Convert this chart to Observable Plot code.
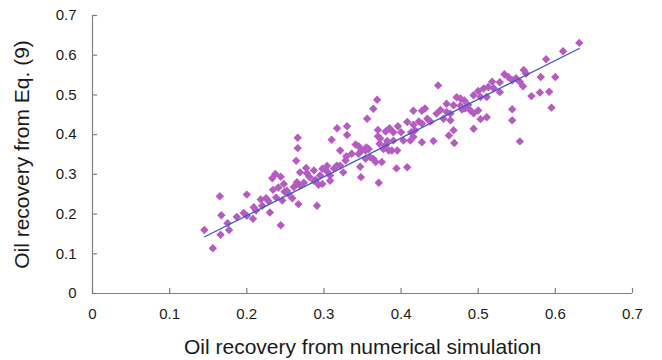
<!DOCTYPE html>
<html>
<head>
<meta charset="utf-8">
<script src="https://cdn.jsdelivr.net/npm/d3@7"></script>
<script src="https://cdn.jsdelivr.net/npm/@observablehq/plot@0.6"></script>
<style>
  html, body { margin: 0; padding: 0; background: #fff; }
  #chart { width: 662px; height: 360px; }
  svg { font-family: "Liberation Sans", Arial, sans-serif; }
</style>
</head>
<body>
<div id="chart"></div>
<script>
// Oil recovery: numerical simulation (x) vs. Eq. (9) (y)
const simRecovery = [
  0.145, 0.156, 0.165, 0.167, 0.166, 0.175, 0.177, 0.187, 0.196, 0.200,
  0.200, 0.208, 0.209, 0.218, 0.220, 0.225, 0.228, 0.230, 0.234, 0.237,
  0.244, 0.238, 0.244, 0.248, 0.249, 0.233, 0.246, 0.259, 0.261, 0.267,
  0.265, 0.252, 0.264, 0.266, 0.266, 0.269, 0.277, 0.278, 0.274, 0.287,
  0.289, 0.291, 0.293, 0.295, 0.298, 0.304, 0.308, 0.313, 0.317, 0.321,
  0.325, 0.308, 0.321, 0.310, 0.317, 0.330, 0.330, 0.329, 0.336, 0.287,
  0.269, 0.341, 0.345, 0.349, 0.354, 0.345, 0.347, 0.348, 0.354, 0.356,
  0.355, 0.358, 0.360, 0.364, 0.369, 0.364, 0.367, 0.370, 0.370, 0.372,
  0.371, 0.375, 0.380, 0.380, 0.384, 0.377, 0.373, 0.382, 0.388, 0.390,
  0.390, 0.395, 0.394, 0.400, 0.403, 0.408, 0.408, 0.413, 0.412, 0.416,
  0.416, 0.416, 0.423, 0.427, 0.427, 0.427, 0.434, 0.438, 0.442, 0.446,
  0.448, 0.451, 0.455, 0.459, 0.459, 0.462, 0.464, 0.464, 0.468, 0.468,
  0.469, 0.418, 0.472, 0.477, 0.477, 0.479, 0.483, 0.487, 0.490, 0.494,
  0.494, 0.494, 0.500, 0.500, 0.503, 0.503, 0.507, 0.511, 0.511, 0.513,
  0.518, 0.520, 0.528, 0.528, 0.539, 0.544, 0.549, 0.554, 0.559, 0.562,
  0.558, 0.544, 0.544, 0.554, 0.569, 0.580, 0.581, 0.588, 0.592, 0.595,
  0.600, 0.610, 0.631,
  0.254, 0.241, 0.281, 0.304, 0.328, 0.385, 0.396, 0.431, 0.482, 0.534,
  0.212, 0.298
];
const eqRecovery = [
  0.160, 0.114, 0.245, 0.197, 0.148, 0.177, 0.160, 0.193, 0.203, 0.249,
  0.196, 0.188, 0.217, 0.237, 0.221, 0.240, 0.233, 0.204, 0.261, 0.301,
  0.294, 0.242, 0.172, 0.276, 0.256, 0.290, 0.234, 0.240, 0.268, 0.225,
  0.280, 0.259, 0.334, 0.392, 0.366, 0.272, 0.316, 0.303, 0.279, 0.310,
  0.286, 0.221, 0.274, 0.297, 0.276, 0.321, 0.297, 0.315, 0.322, 0.322,
  0.305, 0.284, 0.360, 0.387, 0.416, 0.421, 0.399, 0.345, 0.352, 0.284,
  0.305, 0.375, 0.371, 0.360, 0.360, 0.352, 0.319, 0.293, 0.339, 0.440,
  0.368, 0.364, 0.343, 0.465, 0.488, 0.339, 0.331, 0.412, 0.396, 0.377,
  0.279, 0.331, 0.408, 0.373, 0.360, 0.364, 0.390, 0.384, 0.360, 0.406,
  0.385, 0.360, 0.315, 0.406, 0.385, 0.432, 0.318, 0.406, 0.385, 0.460,
  0.425, 0.394, 0.433, 0.460, 0.428, 0.381, 0.440, 0.433, 0.384, 0.453,
  0.524, 0.462, 0.440, 0.478, 0.457, 0.398, 0.453, 0.436, 0.474, 0.411,
  0.379, 0.411, 0.494, 0.491, 0.473, 0.463, 0.466, 0.475, 0.461, 0.454,
  0.415, 0.499, 0.510, 0.461, 0.439, 0.495, 0.516, 0.444, 0.495, 0.520,
  0.533, 0.517, 0.532, 0.507, 0.545, 0.537, 0.542, 0.533, 0.563, 0.554,
  0.522, 0.464, 0.436, 0.383, 0.497, 0.506, 0.545, 0.590, 0.508, 0.468,
  0.545, 0.610, 0.631,
  0.251, 0.267, 0.294, 0.307, 0.335, 0.416, 0.421, 0.466, 0.486, 0.552,
  0.209, 0.314
];

// Fitted trend line end points
const fitX = [0.1455, 0.631];
const fitY = [0.143, 0.617];

// Axis ticks and labels
const ticks = [0, 0.1, 0.2, 0.3, 0.4, 0.5, 0.6, 0.7];
const tickLabels = ["0", "0.1", "0.2", "0.3", "0.4", "0.5", "0.6", "0.7"];
const xTitle = "Oil recovery from numerical simulation";
const yTitle = "Oil recovery from Eq. (9)";

const points = simRecovery.map((x, i) => ({x, y: eqRecovery[i]}));
const fit = fitX.map((x, i) => ({x, y: fitY[i]}));

const axisColor = "#808080";
const textColor = "#1a1a1a";

const chart = Plot.plot({
  width: 662,
  height: 360,
  marginLeft: 92,
  marginRight: 30,
  marginTop: 15,
  marginBottom: 67,
  style: {background: "#ffffff", color: textColor},
  x: {domain: [0, 0.7], axis: null},
  y: {domain: [0, 0.7], axis: null},
  marks: [
    // axis lines
    Plot.ruleY([0], {stroke: axisColor, strokeWidth: 1.2}),
    Plot.ruleX([0], {stroke: axisColor, strokeWidth: 1.2}),
    // inward tick marks
    Plot.ruleX(ticks, {x: d => d, y1: 0, y2: 0, insetTop: -5, stroke: axisColor, strokeWidth: 1.2}),
    Plot.ruleY(ticks, {y: d => d, x1: 0, x2: 0, insetRight: -5, stroke: axisColor, strokeWidth: 1.2}),
    // tick labels
    Plot.axisX(ticks, {tickSize: 0, tickPadding: 15, fontSize: 15, fill: textColor, label: null, tickFormat: (d, i) => tickLabels[i]}),
    Plot.axisY(ticks, {tickSize: 0, tickPadding: 16, fontSize: 15, fill: textColor, label: null, tickFormat: (d, i) => tickLabels[i]}),
    // axis titles
    Plot.text([xTitle], {frameAnchor: "bottom", dy: 54, fontSize: 21, fill: textColor, textAnchor: "middle", lineAnchor: "middle"}),
    Plot.text([yTitle], {frameAnchor: "left", dx: -70, rotate: -90, fontSize: 21, fill: textColor, textAnchor: "middle", lineAnchor: "middle"}),
    // data
    Plot.dot(points, {x: "x", y: "y", symbol: "diamond2", r: 3.8, fill: "#b65bc2", stroke: "none"}),
    Plot.line(fit, {x: "x", y: "y", stroke: "#3a5bc6", strokeWidth: 1.3})
  ]
});

document.getElementById("chart").appendChild(chart);
</script>
</body>
</html>
